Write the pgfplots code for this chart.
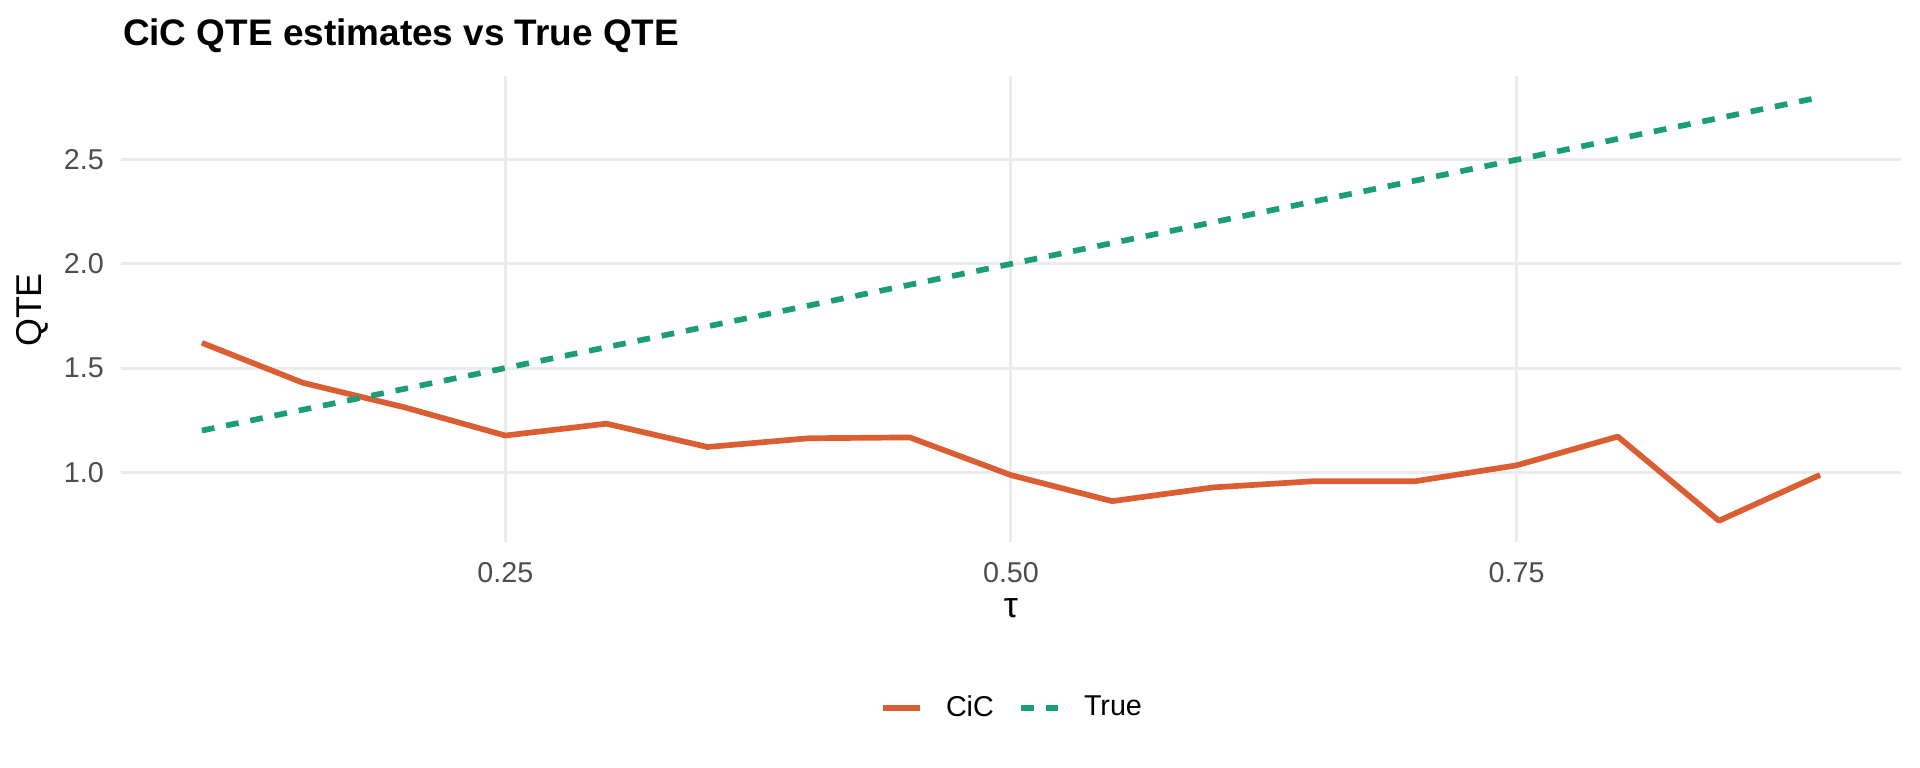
\documentclass[border=0pt]{standalone}
\usepackage{pgfplots}
\pgfplotsset{compat=1.18}
\usepackage{pgfplotstable}
\usepackage{fontspec}
\setmainfont{Liberation Sans}
\definecolor{cicorange}{HTML}{DA5E32}
\definecolor{truegreen}{HTML}{1B9E77}
\definecolor{gridgray}{HTML}{EBEBEB}
\definecolor{tickgray}{HTML}{4D4D4D}
\pgfplotstableread{
Tau CiC True
0.10 1.621 1.2
0.15 1.429 1.3
0.20 1.312 1.4
0.25 1.176 1.5
0.30 1.233 1.6
0.35 1.121 1.7
0.40 1.163 1.8
0.45 1.167 1.9
0.50 0.986 2.0
0.55 0.861 2.1
0.60 0.927 2.2
0.65 0.957 2.3
0.70 0.957 2.4
0.75 1.033 2.5
0.80 1.171 2.6
0.85 0.767 2.7
0.90 0.987 2.8
}\qtedata
\begin{document}
\begin{tikzpicture}
\useasboundingbox (0,0) rectangle (722.7pt,289.08pt);
\begin{axis}[
  at={(45.54pt,85.07pt)}, anchor=south west,
  scale only axis, width=670pt, height=175.4pt,
  xmin=0.06, xmax=0.94, ymin=0.665, ymax=2.902,
  axis line style={draw=none},
  major tick length=0pt,
  xtick={0.25,0.5,0.75}, xticklabels={0.25,0.50,0.75},
  ytick={1,1.5,2,2.5}, yticklabels={1.0,1.5,2.0,2.5},
  /pgf/number format/assume math mode=true,
  grid=major,
  major grid style={draw=gridgray, line width=1.13pt},
  tick label style={font=\fontsize{10.8}{12}\selectfont, text=tickgray, inner sep=0pt},
  yticklabel style={anchor=east, xshift=-6.3pt},
  xticklabel style={anchor=base, yshift=-15.1pt},
  legend columns=-1,
  legend style={at={(axis description cs:0.5,0)}, anchor=center, yshift=-62.5pt,
    draw=none, fill=none, inner sep=0pt, font=\fontsize{10.8}{12}\selectfont,
    nodes={inner sep=0pt},
    /tikz/every odd column/.append style={column sep=8.8pt},
    /tikz/every even column/.append style={column sep=9.1pt}},
  legend image code/.code={\draw[#1] (0pt,0pt) -- (13.9pt,0pt);},
]
\addplot[cicorange, line width=2.14pt, line join=round, line cap=butt] table[x=Tau, y=CiC] {\qtedata};
\addlegendentry{CiC}
\addplot[truegreen, line width=2.14pt, line cap=butt, dash pattern=on 4.8pt off 4.5pt] table[x=Tau, y=True] {\qtedata};
\addlegendentry{True}
\end{axis}
\node[anchor=base west, inner sep=0pt, font=\bfseries\fontsize{13.9}{16}\selectfont] at (46.1pt,271.9pt) {CiC QTE estimates vs True QTE};
\node[anchor=center, rotate=90, inner sep=0pt, font=\fontsize{13.5}{16}\selectfont] at (12.05pt,172.4pt) {QTE};
\node[anchor=base, inner sep=0pt, font=\fontsize{13.5}{16}\selectfont] at (380.5pt,56.8pt) {τ};
\end{tikzpicture}
\end{document}
